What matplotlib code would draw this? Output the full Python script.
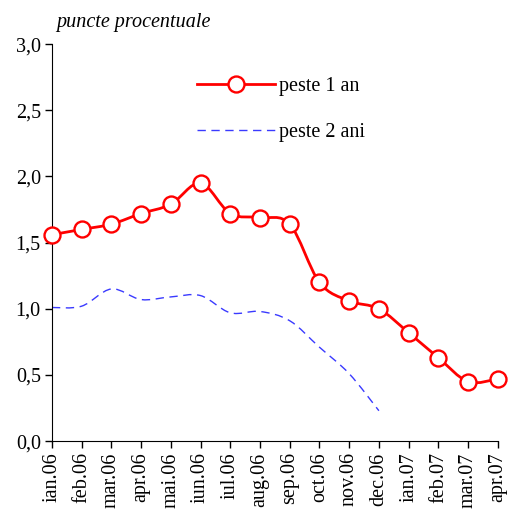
import matplotlib
matplotlib.use("Agg")
import matplotlib.pyplot as plt
import numpy as np
from matplotlib.path import Path
from matplotlib.patches import PathPatch
from matplotlib.lines import Line2D
from matplotlib.ticker import FuncFormatter

months = ["ian.06", "feb.06", "mar.06", "apr.06", "mai.06", "iun.06", "iul.06",
          "aug.06", "sep.06", "oct.06", "nov.06", "dec.06", "ian.07", "feb.07",
          "mar.07", "apr.07"]
peste_1_an = [1.56, 1.60, 1.64, 1.72, 1.79, 1.95, 1.72, 1.69, 1.64, 1.20,
              1.06, 1.00, 0.82, 0.63, 0.45, 0.47]
peste_2_ani = [1.01, 1.02, 1.15, 1.07, 1.09, 1.10, 0.97, 0.98, 0.91, 0.71,
               0.51, 0.23]

plt.rcParams["font.family"] = ["Liberation Serif", "DejaVu Serif"]

RED = "#ff0000"
BLUE = "#3a3aff"
FS = 14.5


def smooth_path(xs, ys):
    # Catmull-Rom through the points, written as cubic Bezier segments
    xs = np.asarray(xs, float)
    ys = np.asarray(ys, float)
    n = len(xs)
    verts = [(xs[0], ys[0])]
    codes = [Path.MOVETO]
    for i in range(n - 1):
        p0 = i - 1 if i > 0 else i
        p3 = i + 2 if i + 2 < n else i + 1
        c1 = (xs[i] + (xs[i + 1] - xs[p0]) / 6, ys[i] + (ys[i + 1] - ys[p0]) / 6)
        c2 = (xs[i + 1] - (xs[p3] - xs[i]) / 6, ys[i + 1] - (ys[p3] - ys[i]) / 6)
        verts += [c1, c2, (xs[i + 1], ys[i + 1])]
        codes += [Path.CURVE4] * 3
    return Path(verts, codes)


fig = plt.figure(figsize=(5.09, 5.13), dpi=100)
ax = fig.add_axes([0.102, 0.140, 0.876, 0.774])

x1 = np.arange(len(peste_1_an))
x2 = np.arange(len(peste_2_ani))

ax.add_patch(PathPatch(smooth_path(x2, peste_2_ani), fill=False, edgecolor=BLUE,
                       linewidth=1.0, linestyle=(0, (6, 4)), zorder=2))
ax.add_patch(PathPatch(smooth_path(x1, peste_1_an), fill=False, edgecolor=RED,
                       linewidth=2.0, zorder=3, clip_on=False))
ax.plot(x1, peste_1_an, linestyle="none", marker="o", markersize=11.5,
        markerfacecolor="white", markeredgecolor=RED, markeredgewidth=1.7,
        zorder=4, clip_on=False)

ax.set_xlim(0, 15)
ax.set_ylim(0, 3.0)
ax.set_yticks(np.arange(0, 3.01, 0.5))
ax.yaxis.set_major_formatter(FuncFormatter(lambda v, p: f"{v:.1f}".replace(".", ",")))
ax.set_xticks(x1)
ax.set_xticklabels(months, rotation=90)
ax.tick_params(axis="both", direction="out", length=5, width=1, labelsize=FS, pad=3)

for side in ["top", "right"]:
    ax.spines[side].set_visible(False)

ax.text(0.01, 1.03, "puncte procentuale", transform=ax.transAxes, fontsize=FS,
        style="italic", ha="left", va="bottom")

handles = [
    Line2D([], [], color=RED, linewidth=2.0, marker="o", markersize=11.5,
           markerfacecolor="white", markeredgecolor=RED, markeredgewidth=1.7),
    Line2D([], [], color=BLUE, linewidth=1.0, linestyle=(0, (6, 4))),
]
ax.legend(handles, ["peste 1 an", "peste 2 ani"], loc="upper left",
          bbox_to_anchor=(0.325, 0.917), frameon=False, fontsize=FS,
          handlelength=3.9, handletextpad=0.2, labelspacing=1.35,
          borderpad=0, borderaxespad=0)

fig.savefig("out.png", dpi=100)
